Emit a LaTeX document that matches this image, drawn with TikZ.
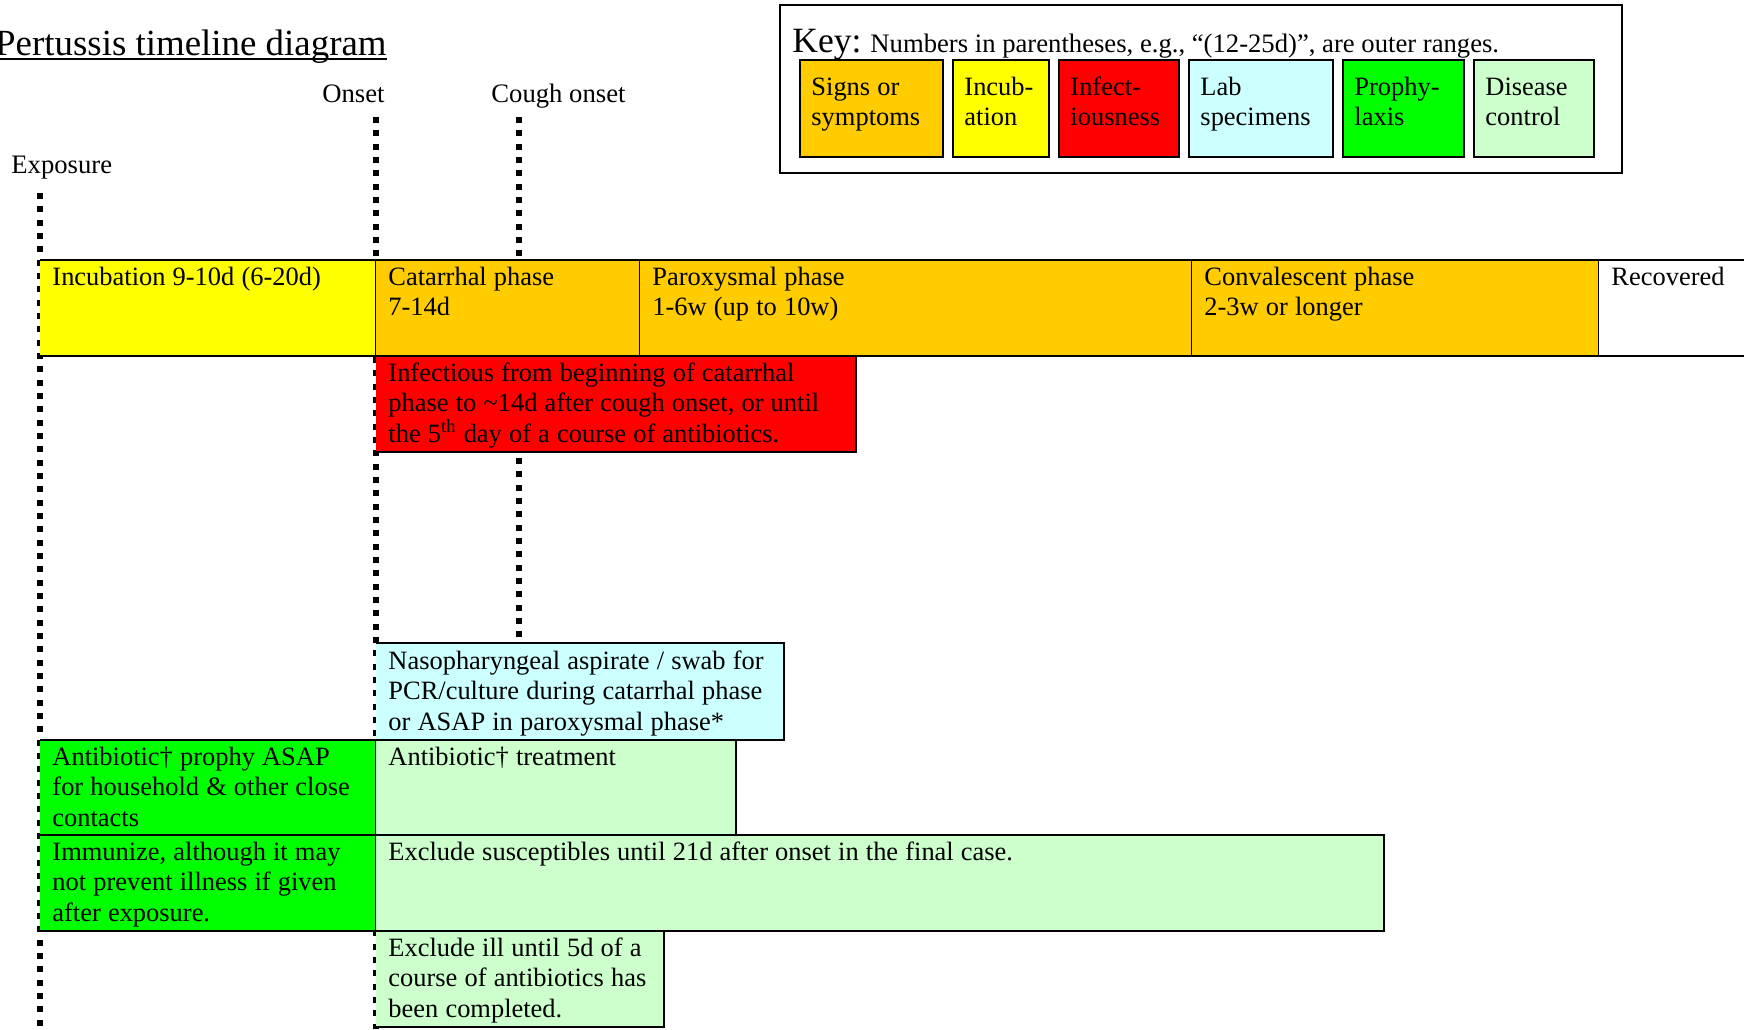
\documentclass[tikz,border=0pt]{standalone}
\usepackage{fontspec}
\setmainfont{Liberation Serif}
\usetikzlibrary{positioning}
\definecolor{signs}{HTML}{FFCC00}
\definecolor{incub}{HTML}{FFFF00}
\definecolor{infect}{HTML}{FF0000}
\definecolor{lab}{HTML}{CCFFFF}
\definecolor{prophy}{HTML}{00FF00}
\definecolor{control}{HTML}{CCFFCC}
% a table cell: filled, open on its left side
\newcommand{\cellbox}[5]{\fill[#5] (#1,#2) rectangle (#3,#4);
  \draw[cell] (#1,#2) -| (#3,#4) -- (#1,#4);}

\begin{document}
\begin{tikzpicture}[
  x=0.45pt, y=-0.45pt,
  cell/.style={line width=0.9pt},
  keyitem/.style={draw, line width=0.7pt},
  txt/.style={anchor=base west, inner sep=0pt, align=left, text width=12cm,
              font=\fontsize{11.9}{13.8}\selectfont,
              execute at begin node={\spaceskip=0.27em\relax}},
  lbl/.style={inner sep=0pt, font=\fontsize{12}{13.8}\selectfont},
  timeline/.style={line width=2.6pt, dash pattern=on 2.7pt off 3.3pt}]

\useasboundingbox (0,0) rectangle (1744,1029);

% title and event labels
\node[anchor=base east, inner sep=0pt, font=\fontsize{16.6}{19}\selectfont]
  (title) at (387,55) {Pertussis timeline diagram};
\draw[line width=0.7pt] ([yshift=-1.8pt]title.base west)
  -- ([yshift=-1.8pt]title.base east);
\node[lbl, anchor=base east] (onset) at (385,102) {Onset};
\node[lbl, anchor=base west] (cough) at (491,102) {Cough onset};
\node[lbl, anchor=base west] (expo)  at (11,173)  {Exposure};

% event lines
\coordinate (expTop) at (40,193);
\coordinate (expBot) at (40,1029);
\coordinate (onsTop) at (376,117);
\coordinate (onsBot) at (376,1029);
\coordinate (couTop) at (519,117);
\coordinate (couMid) at (519,256);
\coordinate (couLow) at (519,458);
\coordinate (couEnd) at (519,641);
\draw[timeline] (expTop) -- (expBot);
\draw[timeline] (onsTop) -- (onsBot);
\draw[timeline] (couTop) -- (couMid);
\draw[timeline] (couLow) -- (couEnd);

% key
\draw[line width=0.9pt] (780,5) rectangle (1622,173);
\node[lbl, anchor=base west] (key) at (792,52)
  {{\fontsize{16}{19}\selectfont Key:} Numbers in parentheses, e.g.,
   ``(12-25d)'', are outer ranges.};
\draw[keyitem, fill=signs]   (800,60)  rectangle (943,157);
\draw[keyitem, fill=incub]   (953,60)  rectangle (1049,157);
\draw[keyitem, fill=infect]  (1059,60) rectangle (1179,157);
\draw[keyitem, fill=lab]     (1189,60) rectangle (1333,157);
\draw[keyitem, fill=prophy]  (1343,60) rectangle (1464,157);
\draw[keyitem, fill=control] (1474,60) rectangle (1594,157);
\node[txt] (kSigns)  at (811,95)  {Signs or\\symptoms};
\node[txt] (kIncub)  at (964,95)  {Incub-\\ation};
\node[txt] (kInfect) at (1070,95) {Infect-\\iousness};
\node[txt] (kLab)    at (1200,95) {Lab\\specimens};
\node[txt] (kProphy) at (1354,95) {Prophy-\\laxis};
\node[txt] (kCtrl)   at (1485,95) {Disease\\control};

% phases
\cellbox{40}{260}{376}{356}{incub}
\cellbox{376}{260}{640}{356}{signs}
\cellbox{640}{260}{1192}{356}{signs}
\cellbox{1192}{260}{1599}{356}{signs}
\cellbox{1599}{260}{1770}{356}{white}
\node[txt] (incT) at (52,285)   {Incubation 9-10d (6-20d)};
\node[txt] (catT) at (388,285)  {Catarrhal phase\\7-14d};
\node[txt] (parT) at (652,285)  {Paroxysmal phase\\1-6w (up to 10w)};
\node[txt] (conT) at (1204,285) {Convalescent phase\\2-3w or longer};
\node[txt] (recT) at (1611,285) {Recovered};

% infectiousness and lab
\cellbox{376}{356}{856}{452}{infect}
\node[txt] (infT) at (388,381) {Infectious from beginning of catarrhal\\
  phase to \textasciitilde14d after cough onset, or until\\
  the 5\textsuperscript{th} day of a course of antibiotics.};
\cellbox{376}{643}{784}{740}{lab}
\node[txt] (labT) at (388,669) {Nasopharyngeal aspirate / swab for\\
  PCR/culture during catarrhal phase\\or ASAP in paroxysmal phase*};

% prophylaxis and control
\cellbox{40}{740}{376}{835}{prophy}
\cellbox{376}{740}{736}{835}{control}
\cellbox{40}{835}{376}{931}{prophy}
\cellbox{376}{835}{1384}{931}{control}
\cellbox{376}{931}{664}{1027}{control}
\node[txt] (proT) at (52,765)  {Antibiotic\textdagger{} prophy ASAP\\
  for household \& other close\\contacts};
\node[txt] (treT) at (388,765) {Antibiotic\textdagger{} treatment};
\node[txt] (immT) at (52,860)  {Immunize, although it may\\
  not prevent illness if given\\after exposure.};
\node[txt] (excT) at (388,860) {Exclude susceptibles until 21d after
  onset in the final case.};
\node[txt] (illT) at (388,956) {Exclude ill until 5d of a\\
  course of antibiotics has\\been completed.};
\end{tikzpicture}
\end{document}
